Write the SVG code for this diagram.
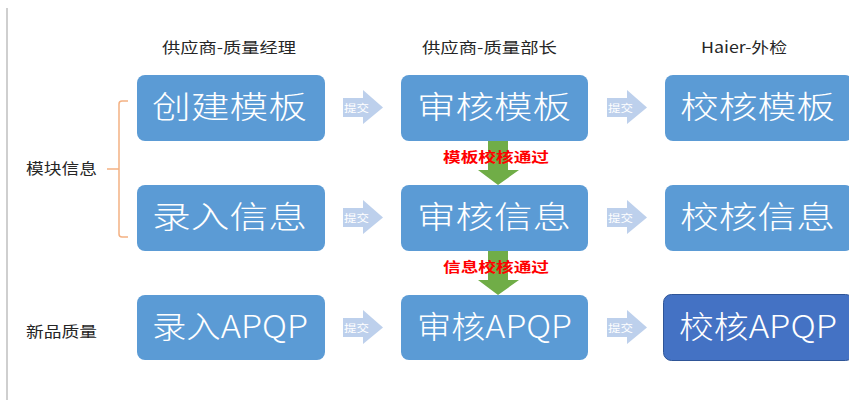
<svg xmlns="http://www.w3.org/2000/svg" width="849" height="407" viewBox="0 0 849 407">
<defs>
<style>
text{font-family:"Noto Sans CJK SC","Noto Sans",sans-serif;}
.hdr{font-size:15px;fill:#262626;}
.lbl{font-size:15px;fill:#262626;}
.box{fill:#5B9BD5;}
.boxd{fill:#4472C4;stroke:#2F5597;stroke-width:1;}
.bt{font-size:31px;font-weight:300;fill:#ffffff;}
.sub{fill:#BDD0EC;}
.st{font-size:10px;fill:#ffffff;}
.grn{fill:#70AD47;}
.rt{font-size:14px;font-weight:bold;fill:#FF0000;}
</style>
</defs>
<rect width="849" height="407" fill="#ffffff"/>
<line x1="7" y1="8" x2="7" y2="400" stroke="#BFBFBF" stroke-width="1.5"/>

<g id="headers">
<text class="hdr" x="162" y="53" textLength="134" lengthAdjust="spacingAndGlyphs">供应商-质量经理</text>
<text class="hdr" x="422" y="53" textLength="135" lengthAdjust="spacingAndGlyphs">供应商-质量部长</text>
<text class="hdr" x="701" y="53" textLength="86" lengthAdjust="spacingAndGlyphs">Haier-外检</text>
</g>

<g id="group-labels">
<text class="lbl" x="26" y="174" textLength="71" lengthAdjust="spacingAndGlyphs">模块信息</text>
<text class="lbl" x="26" y="337" textLength="71" lengthAdjust="spacingAndGlyphs">新品质量</text>
<path d="M128,101 L122,101 Q119,101 119,104 L119,234 Q119,237 122,237 L128,237 M107,169 L119,169" fill="none" stroke="#F4B183" stroke-width="1.5"/>
</g>

<g id="connectors">
<g id="submit-arrows">
<path class="sub" d="M343,98 L363,98 L363,90 L383,107.5 L363,124 L363,117 L343,117 Z"/>
<text class="st" x="344" y="111.5" textLength="25" lengthAdjust="spacingAndGlyphs">提交</text>
<path class="sub" d="M607,98 L627,98 L627,90 L647,107.5 L627,124 L627,117 L607,117 Z"/>
<text class="st" x="608" y="111.5" textLength="25" lengthAdjust="spacingAndGlyphs">提交</text>
<path class="sub" d="M343,208 L363,208 L363,200 L383,217.5 L363,234 L363,227 L343,227 Z"/>
<text class="st" x="344" y="221.5" textLength="25" lengthAdjust="spacingAndGlyphs">提交</text>
<path class="sub" d="M607,208 L627,208 L627,200 L647,217.5 L627,234 L627,227 L607,227 Z"/>
<text class="st" x="608" y="221.5" textLength="25" lengthAdjust="spacingAndGlyphs">提交</text>
<path class="sub" d="M343,318 L363,318 L363,310 L383,327.5 L363,344 L363,337 L343,337 Z"/>
<text class="st" x="344" y="331.5" textLength="25" lengthAdjust="spacingAndGlyphs">提交</text>
<path class="sub" d="M607,318 L627,318 L627,310 L647,327.5 L627,344 L627,337 L607,337 Z"/>
<text class="st" x="608" y="331.5" textLength="25" lengthAdjust="spacingAndGlyphs">提交</text>
</g>
<g id="pass-arrows">
<path class="grn" d="M488,141 L508,141 L508,170 L519,170 L498,185 L478,170 L488,170 Z"/>
<text class="rt" x="443" y="162" textLength="106" lengthAdjust="spacingAndGlyphs">模板校核通过</text>
<path class="grn" d="M488,251 L508,251 L508,280 L519,280 L498,295 L478,280 L488,280 Z"/>
<text class="rt" x="443" y="272" textLength="106" lengthAdjust="spacingAndGlyphs">信息校核通过</text>
</g>
</g>

<g id="n-create-template"><rect class="box" x="137" y="75" width="188" height="66" rx="8"/><text class="bt" x="152" y="118" textLength="155" lengthAdjust="spacingAndGlyphs">创建模板</text></g>
<g id="n-review-template"><rect class="box" x="401" y="75" width="187" height="66" rx="8"/><text class="bt" x="417" y="118" textLength="154" lengthAdjust="spacingAndGlyphs">审核模板</text></g>
<g id="n-check-template"><rect class="box" x="665" y="75" width="188" height="66" rx="8"/><text class="bt" x="680" y="118" textLength="155" lengthAdjust="spacingAndGlyphs">校核模板</text></g>

<g id="n-enter-info"><rect class="box" x="137" y="185" width="188" height="66" rx="8"/><text class="bt" x="152" y="228" textLength="155" lengthAdjust="spacingAndGlyphs">录入信息</text></g>
<g id="n-review-info"><rect class="box" x="401" y="185" width="187" height="66" rx="8"/><text class="bt" x="417" y="228" textLength="154" lengthAdjust="spacingAndGlyphs">审核信息</text></g>
<g id="n-check-info"><rect class="box" x="665" y="185" width="188" height="66" rx="8"/><text class="bt" x="680" y="228" textLength="155" lengthAdjust="spacingAndGlyphs">校核信息</text></g>

<g id="n-enter-apqp"><rect class="box" x="137" y="295" width="188" height="65" rx="8"/><text class="bt" x="152" y="338" textLength="156" lengthAdjust="spacingAndGlyphs">录入APQP</text></g>
<g id="n-review-apqp"><rect class="box" x="401" y="295" width="187" height="65" rx="8"/><text class="bt" x="417" y="338" textLength="155" lengthAdjust="spacingAndGlyphs">审核APQP</text></g>
<g id="n-check-apqp"><rect class="boxd" x="663.5" y="294.5" width="190" height="66" rx="8"/><text class="bt" x="679" y="338" textLength="158" lengthAdjust="spacingAndGlyphs">校核APQP</text></g>
</svg>
